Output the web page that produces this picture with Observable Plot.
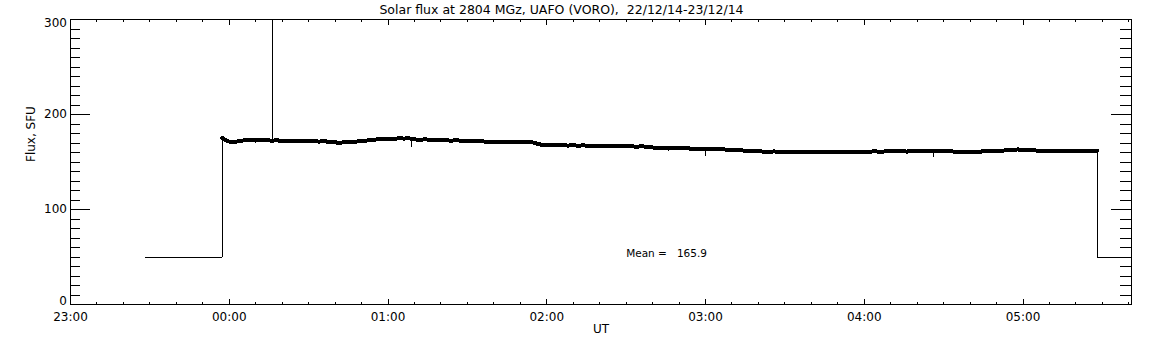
<!DOCTYPE html>
<html><head><meta charset="utf-8">
<script src="https://cdn.jsdelivr.net/npm/d3@7"></script>
<script src="https://cdn.jsdelivr.net/npm/@observablehq/plot@0.6"></script>
<style>
html,body{margin:0;padding:0;background:#fff;}
svg text{white-space:pre;}
svg{shape-rendering:crispEdges;}
</style></head><body><div id="chart"></div>
<script>
// ---- data ----
const titleText = "Solar flux at 2804 MGz, UAFO (VORO),  22/12/14-23/12/14";
const xLabel = "UT";
const yLabel = "Flux, SFU";
const meanValue = "165.9";
const xDomain = ["23:00", "05:41"];
const hourTicks = ["23:00", "00:00", "01:00", "02:00", "03:00", "04:00", "05:00"];
const yMajorTicks = [0, 100, 200, 300];
// calibration level before/after observation
const offTimes = ["23:28", "23:57:18", "05:28:06", "05:41"];
const offFlux = [50, 50, 50, 50];
// receiver on: first and last points
const onTimes = ["23:57:18", "05:28:06"];
const onFlux = [175.5, 162.0];
// flux samples, every 2 minutes from 23:58 to 05:28
const sampleStart = "23:58";
const sampleStepMin = 2;
const flux = [
  174.0,171.5,171.0,172.3,172.8,173.2,172.6,173.5,172.9,172.5,
  172.8,172.2,171.8,172.4,172.0,171.6,172.3,171.9,171.5,171.8,
  171.2,170.6,170.3,170.9,171.2,171.5,172.0,172.6,173.2,173.8,
  174.3,174.6,174.2,175.0,174.7,174.9,173.8,173.4,173.9,173.2,
  172.9,173.3,172.8,172.5,172.9,172.3,172.0,171.8,172.2,171.6,
  171.2,171.5,171.0,171.3,170.8,171.2,171.0,170.6,171.1,169.5,
  168.2,167.8,168.0,167.5,167.8,167.3,167.6,167.2,167.5,167.0,
  167.3,166.9,167.2,166.8,167.0,166.6,166.9,166.4,166.2,166.5,
  165.9,165.3,164.8,164.5,164.2,164.6,164.3,164.7,164.2,164.0,
  163.8,164.1,163.6,163.3,163.5,163.0,162.8,162.5,162.1,161.8,
  161.5,161.2,161.0,160.8,161.1,160.6,160.4,160.7,160.2,160.0,
  160.3,160.1,160.5,160.2,160.6,160.8,160.4,160.7,160.9,160.5,
  160.8,160.6,160.9,161.2,160.8,161.1,161.4,161.2,161.5,161.0,
  161.3,161.6,161.1,161.4,161.8,162.0,161.5,161.2,161.0,160.8,
  160.6,160.9,160.7,161.0,161.3,161.5,161.8,162.0,162.3,162.8,
  163.2,162.9,162.5,162.2,162.0,161.8,161.6,161.9,161.5,161.7,
  161.9,161.6,161.8,162.0,161.7,162.0
];
// single-sample spikes: time, peak value, surrounding level
const spikeTimes = ["00:16:24", "01:09:00", "03:00:00", "04:26:00"];
const spikeFlux = [420, 166.6, 157.0, 155.5];
const spikeBase = [172.5, 174.0, 164.1, 161.4];

// ---- helpers ----
function toDate(s) {
  const [h, m, sec = 0] = s.split(":").map(Number);
  const day = h >= 12 ? 22 : 23;
  return new Date(Date.UTC(2014, 11, day, h, m, sec));
}
const t0 = toDate(sampleStart);
const samples = flux.map((v, i) => ({t: d3.utcMinute.offset(t0, sampleStepMin * i), v}));
const band = [{t: toDate(onTimes[0]), v: onFlux[0]}, ...samples, {t: toDate(onTimes[1]), v: onFlux[1]}];
const spikes = spikeTimes.flatMap((s, i) => {
  const t = toDate(s);
  return [
    {t: d3.utcSecond.offset(t, -3), v: spikeBase[i]},
    {t, v: spikeFlux[i]},
    {t: d3.utcSecond.offset(t, 3), v: spikeBase[i]}
  ];
});
const inner = [...band, ...spikes].sort((a, b) => a.t - b.t);
const series = [
  {t: toDate(offTimes[0]), v: offFlux[0]},
  {t: toDate(offTimes[1]), v: offFlux[1]},
  ...inner,
  {t: toDate(offTimes[2]), v: offFlux[2]},
  {t: toDate(offTimes[3]), v: offFlux[3]}
];

const W = 1152, H = 345, ML = 70, MR = 21, MT = 19, MB = 41;
const FW = W - ML - MR, FH = H - MT - MB;
const dom = xDomain.map(toDate);
const hourDates = hourTicks.map(toDate);
const minorX = d3.utcMinute.every(10).range(dom[0], d3.utcMinute.offset(dom[1], 1));
const minorY = d3.range(0, 301, 10);

const chart = Plot.plot({
  width: W, height: H,
  marginLeft: ML, marginRight: MR, marginTop: MT, marginBottom: MB,
  style: {fontFamily: "DejaVu Sans", fontSize: "12px", background: "white", color: "black"},
  x: {type: "utc", domain: dom},
  y: {domain: [0, 300]},
  marks: [
    Plot.line(series, {x: "t", y: "v", stroke: "black", strokeWidth: 1, clip: true}),
    Plot.line(band, {x: "t", y: "v", stroke: "black", strokeWidth: 4, clip: true}),
    Plot.frame({stroke: "black", strokeWidth: 1}),
    // x ticks, bottom and top (inward)
    Plot.tickX(hourDates, {x: d => d, insetTop: FH - 5, stroke: "black"}),
    Plot.tickX(minorX, {x: d => d, insetTop: FH - 2.5, stroke: "black"}),
    Plot.tickX(hourDates, {x: d => d, insetBottom: FH - 6, stroke: "black"}),
    Plot.tickX(minorX, {x: d => d, insetBottom: FH - 3, stroke: "black"}),
    // y ticks, left and right (inward)
    Plot.tickY(yMajorTicks, {y: d => d, insetRight: FW - 20, stroke: "black"}),
    Plot.tickY(minorY, {y: d => d, insetRight: FW - 10, stroke: "black"}),
    Plot.tickY(yMajorTicks, {y: d => d, insetLeft: FW - 20, stroke: "black"}),
    Plot.tickY(minorY, {y: d => d, insetLeft: FW - 11, stroke: "black"}),
    // tick labels
    Plot.axisX(hourDates, {anchor: "bottom", tickSize: 0, tickPadding: 7.5, tickFormat: d3.utcFormat("%H:%M"), label: null}),
    Plot.axisY(yMajorTicks.slice(1, 3), {anchor: "left", tickSize: 0, tickPadding: 3.5, label: null}),
    Plot.axisY(yMajorTicks.slice(0, 1), {anchor: "left", tickSize: 0, tickPadding: 3.5, dy: -3.7, label: null}),
    Plot.axisY(yMajorTicks.slice(3, 4), {anchor: "left", tickSize: 0, tickPadding: 3.5, dy: 3.5, label: null}),
    // titles
    Plot.text([titleText], {frameAnchor: "top", lineAnchor: "bottom", dy: -6, dx: -39.5, fontSize: 12.5}),
    Plot.text([xLabel], {frameAnchor: "bottom", lineAnchor: "bottom", dy: 28, fontSize: 12}),
    Plot.text([yLabel], {frameAnchor: "left", rotate: -90, dx: -39, fontSize: 12}),
    Plot.text([`Mean =   ${meanValue}`], {x: () => toDate("02:30"), y: () => 50, textAnchor: "start", lineAnchor: "bottom", fontSize: 10.5})
  ]
});
document.getElementById("chart").append(chart);
</script></body></html>
